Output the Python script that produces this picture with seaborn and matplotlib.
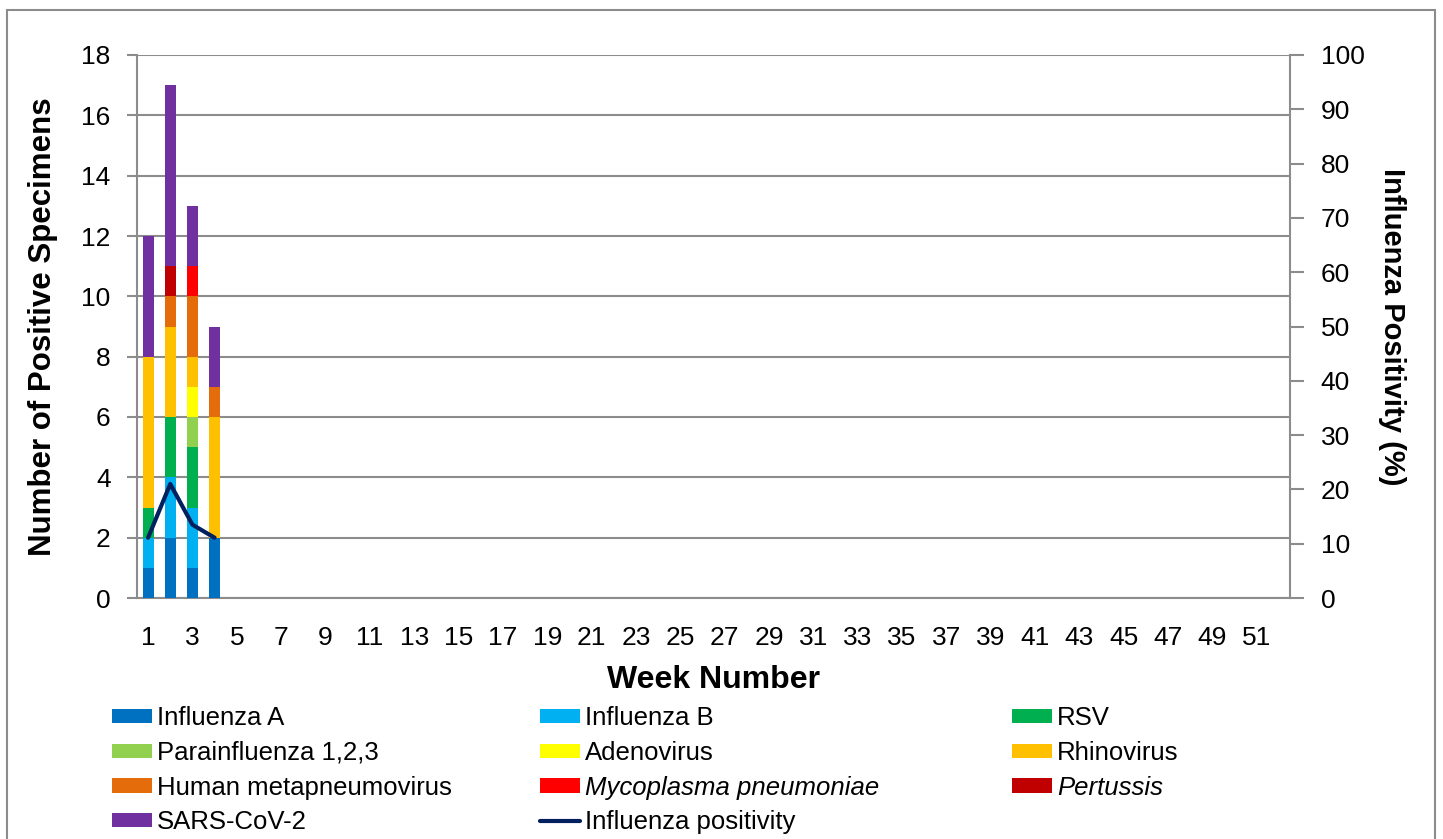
import numpy as np
import pandas as pd
import matplotlib
matplotlib.use("Agg")
import matplotlib.pyplot as plt
from matplotlib.patches import Patch, Rectangle
from matplotlib.lines import Line2D
import seaborn as sns

weeks = list(range(1, 53))
data_weeks = [1, 2, 3, 4]
flu_a = [1, 2, 1, 2]
flu_b = [1, 2, 2, 0]
rsv = [1, 2, 2, 0]
parainfluenza = [0, 0, 1, 0]
adenovirus = [0, 0, 1, 0]
rhinovirus = [5, 3, 1, 4]
hmpv = [0, 1, 2, 1]
mycoplasma = [0, 0, 1, 0]
pertussis = [0, 1, 0, 0]
sars_cov_2 = [4, 6, 2, 2]
flu_positivity = [11.1, 21.0, 13.5, 11.1]

series_names = ["Influenza A", "Influenza B", "RSV", "Parainfluenza 1,2,3", "Adenovirus",
                "Rhinovirus", "Human metapneumovirus", "Mycoplasma pneumoniae", "Pertussis",
                "SARS-CoV-2"]
series_vals = [flu_a, flu_b, rsv, parainfluenza, adenovirus, rhinovirus, hmpv,
               mycoplasma, pertussis, sars_cov_2]
colors = ["#0070C0", "#00B0F0", "#00B050", "#92D050", "#FFFF00", "#FFC000",
          "#E46C0A", "#FF0000", "#C00000", "#7030A0"]
line_color = "#002060"

sns.set_style("white")
plt.rcParams['font.family'] = ['Liberation Sans', 'DejaVu Sans']
plt.rcParams['text.color'] = 'black'
plt.rcParams['axes.labelcolor'] = 'black'
plt.rcParams['xtick.color'] = 'black'
plt.rcParams['ytick.color'] = 'black'

fig = plt.figure(figsize=(14.43, 8.39), dpi=100)
ax = fig.add_axes([137/1443, 1-598/839, (1290-137)/1443, (598-55)/839])

# build cumulative table
df = pd.DataFrame({"week": weeks})
for name, vals in zip(series_names, series_vals):
    full = [0]*len(weeks)
    for w, v in zip(data_weeks, vals):
        full[w-1] = v
    df[name] = full
cum = df[series_names].cumsum(axis=1)
order = [str(w) for w in weeks]
df["wk"] = df["week"].astype(str)

for name, col in reversed(list(zip(series_names, colors))):
    tmp = pd.DataFrame({"wk": df["wk"], "val": cum[name]})
    sns.barplot(data=tmp, x="wk", y="val", order=order, color=col, width=0.5,
                saturation=1, linewidth=0, errorbar=None, ax=ax, zorder=3)

grey = "#8c8c8c"
ax.set_ylim(0, 18)
ax.set_yticks(np.arange(0, 19, 2))
ax.set_xlim(-0.5, 51.5)
ax.set_xticks(np.arange(0, 52, 2))
ax.set_xticklabels([str(w) for w in weeks[::2]])
ax.set_xticks(np.arange(-0.5, 52, 1), minor=True)
ax.tick_params(axis="x", which="major", length=0, labelsize=19, pad=20, labelcolor="black")
ax.tick_params(axis="x", which="minor", length=10, width=1.5, color=grey, direction="out")
ax.tick_params(axis="y", which="major", length=7, width=1.5, color=grey, labelsize=19,
               direction="out", left=True, pad=12, labelcolor="black")
ax.grid(axis="y", color=grey, linewidth=1.5, zorder=0)
ax.set_axisbelow(True)
for s in ["top", "right"]:
    ax.spines[s].set_visible(False)
for s in ["left", "bottom"]:
    ax.spines[s].set_color(grey)
    ax.spines[s].set_linewidth(1.5)
ax.set_xlabel("Week Number", fontsize=23, fontweight="bold", labelpad=11, color="black")
ax.set_ylabel("Number of Positive Specimens", fontsize=22.5, fontweight="bold", labelpad=17,
              color="black")

ax2 = ax.twinx()
line_df = pd.DataFrame({"x": [w-1 for w in data_weeks], "pos": flu_positivity})
sns.lineplot(data=line_df, x="x", y="pos", color=line_color, linewidth=3, ax=ax2, zorder=5)
ax2.set_ylim(0, 100)
ax2.set_yticks(np.arange(0, 101, 10))
ax2.set_xlim(-0.5, 51.5)
ax2.tick_params(axis="y", length=10, width=1.5, color=grey, labelsize=19, pad=12, right=True,
                labelcolor="black")
for s in ["top", "left", "bottom"]:
    ax2.spines[s].set_visible(False)
ax2.spines["right"].set_color(grey)
ax2.spines["right"].set_linewidth(1.5)
ax2.set_ylabel("Influenza Positivity (%)", fontsize=21, fontweight="bold", rotation=-90,
               labelpad=30, color="black")
ax2.set_xlabel("")

# legend: three columns placed separately
handles = dict(zip(series_names, [Patch(facecolor=c, edgecolor="none") for c in colors]))
handles["Influenza positivity"] = Line2D([0], [0], color=line_color, linewidth=3)
columns = [
    (["Influenza A", "Parainfluenza 1,2,3", "Human metapneumovirus", "SARS-CoV-2"], 112),
    (["Influenza B", "Adenovirus", "Mycoplasma pneumoniae", "Influenza positivity"], 540),
    (["RSV", "Rhinovirus", "Pertussis"], 1012),
]
for names, xpix in columns:
    leg = fig.legend([handles[n] for n in names], names, loc="upper left",
                     bbox_to_anchor=(xpix/1443, 1-706/839), ncol=1, frameon=False,
                     fontsize=18.5, handlelength=1.55, handleheight=0.47,
                     handletextpad=0.2, labelspacing=0.42, borderpad=0, borderaxespad=0)
    for t in leg.get_texts():
        if t.get_text() in ("Mycoplasma pneumoniae", "Pertussis"):
            t.set_fontstyle("italic")

# outer border
fig.patches.append(Rectangle((7/1443, -0.05), (1435-7)/1443, 1.05-10/839,
                             transform=fig.transFigure, fill=False,
                             edgecolor=grey, linewidth=1.5, clip_on=False))

fig.savefig("out.png", dpi=100)
